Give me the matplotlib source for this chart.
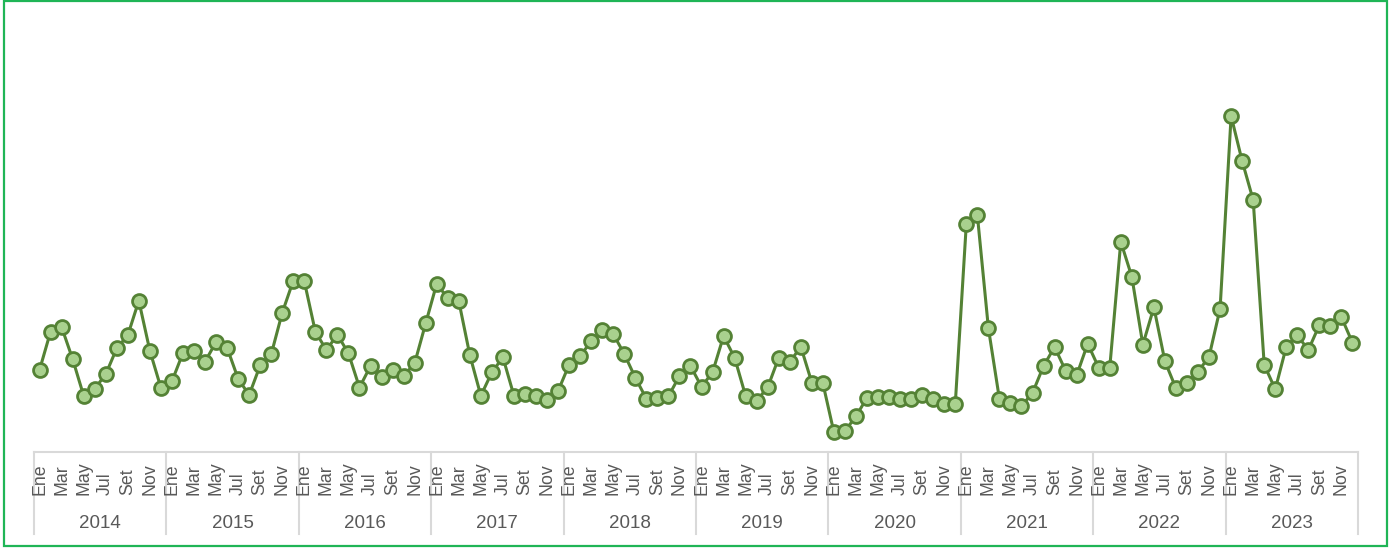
import numpy as np
import matplotlib.pyplot as plt
from matplotlib.patches import Rectangle

years = [2014, 2015, 2016, 2017, 2018, 2019, 2020, 2021, 2022, 2023]
month_names = ['Ene', 'Feb', 'Mar', 'Abr', 'May', 'Jun',
               'Jul', 'Ago', 'Set', 'Oct', 'Nov', 'Dic']

# monthly values, one list per year
v2014 = [82.0, 120.3, 125.0, 93.0, 56.3, 63.3, 77.7, 103.7, 116.7, 151.3, 101.3, 64.3]
v2015 = [70.7, 99.0, 101.3, 90.3, 110.0, 104.3, 73.3, 57.0, 86.7, 97.7, 139.3, 171.3]
v2016 = [170.7, 120.3, 102.0, 117.3, 98.7, 64.5, 86.0, 74.7, 82.0, 76.0, 88.7, 128.7]
v2017 = [168.3, 153.7, 151.0, 97.0, 56.3, 79.7, 94.7, 56.3, 57.7, 56.0, 52.0, 61.0]
v2018 = [87.3, 96.0, 110.7, 122.0, 118.0, 98.0, 74.3, 53.3, 53.7, 55.7, 76.0, 86.0]
v2019 = [65.3, 79.7, 116.0, 94.3, 56.0, 51.3, 64.7, 94.3, 90.0, 105.3, 69.3, 68.7]
v2020 = [19.7, 21.0, 35.7, 54.3, 54.7, 54.7, 53.0, 53.0, 56.7, 53.0, 47.7, 48.3]
v2021 = [228.0, 237.0, 124.0, 53.0, 48.7, 46.0, 59.0, 86.0, 105.0, 81.3, 76.7, 108.3]
v2022 = [84.3, 84.3, 210.3, 175.3, 107.3, 144.7, 90.7, 63.7, 68.7, 80.3, 95.3, 143.3]
v2023 = [336.0, 291.0, 252.0, 87.3, 62.7, 105.3, 116.7, 102.0, 127.0, 125.7, 134.7, 109.3]

values = np.array(v2014 + v2015 + v2016 + v2017 + v2018 +
                  v2019 + v2020 + v2021 + v2022 + v2023)
x = np.arange(len(values))

plt.rcParams['font.family'] = ['Liberation Sans', 'DejaVu Sans']

W, H = 1394, 548
fig = plt.figure(figsize=(W / 100, H / 100), dpi=100)

# outer frame of the chart
fig.patches.append(Rectangle((4 / W, 2 / H), 1383 / W, 545 / H, transform=fig.transFigure,
                             fill=False, edgecolor='#1FB556', linewidth=1.6))

ax_left, ax_right, ax_base, ax_top = 34, 1358, 452, 20
ax = fig.add_axes([ax_left / W, 1 - ax_base / H,
                   (ax_right - ax_left) / W, (ax_base - ax_top) / H])
ax_h = ax_base - ax_top

ax.plot(x, values, color='#548235', linewidth=2.2, marker='o', markersize=10,
        markerfacecolor='#A9D18E', markeredgecolor='#548235', markeredgewidth=2.0,
        zorder=3, clip_on=False)

ax.set_xlim(-0.5, len(values) - 0.5)
ax.set_ylim(0, ax_h)
ax.set_xticks([])
ax.set_yticks([])
for side in ['left', 'right', 'top']:
    ax.spines[side].set_visible(False)
ax.spines['bottom'].set_color('#D9D9D9')
ax.spines['bottom'].set_linewidth(1.5)

xt = ax.get_xaxis_transform()
grey = '#D9D9D9'
text_col = '#595959'

# year separators below the axis
sep_low = (ax_base - 534) / ax_h
for k in range(len(years) + 1):
    ax.plot([12 * k - 0.5, 12 * k - 0.5], [0, sep_low], color=grey,
            linewidth=1.5, transform=xt, clip_on=False)

# month labels (every second month) and year labels
month_y = (ax_base - 495) / ax_h
year_y = (ax_base - 523) / ax_h
for k, yr in enumerate(years):
    for m in range(0, 12, 2):
        ax.text(12 * k + m, month_y, month_names[m], rotation=90, ha='center',
                va='bottom', fontsize=12.8, color=text_col, transform=xt)
    ax.text(12 * k + 5.5, year_y, str(yr), ha='center', va='center',
            fontsize=13.5, color=text_col, transform=xt)

fig.savefig('out.png', dpi=100)
